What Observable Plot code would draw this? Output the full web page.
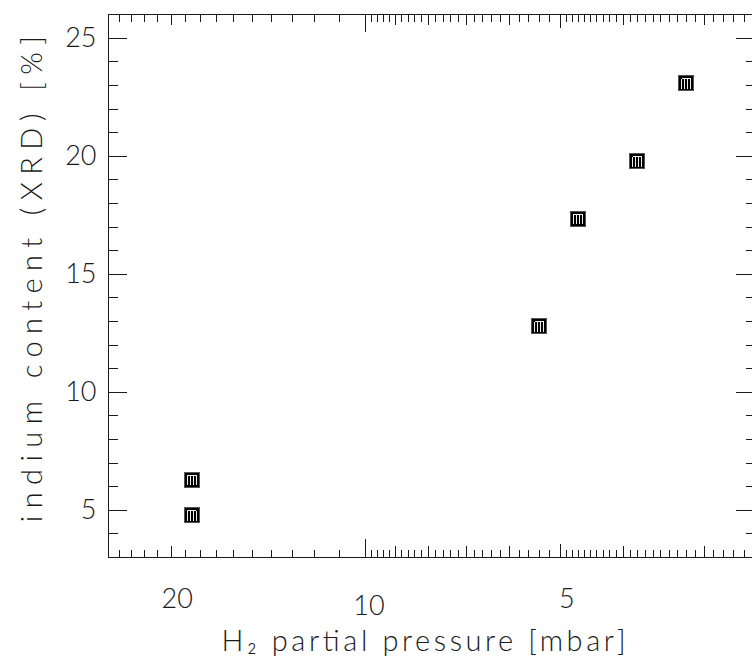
<!DOCTYPE html>
<html><head><meta charset="utf-8">
<script src="https://cdn.jsdelivr.net/npm/d3@7"></script>
<script src="https://cdn.jsdelivr.net/npm/@observablehq/plot@0.6"></script>
<style>
html,body{margin:0;padding:0;background:#fff;overflow:hidden;}
</style></head><body><div id="chart"></div>
<script>
// ---- data ----
const pressure = [18.6, 18.6, 5.40, 4.71, 3.81, 3.20];   // H2 partial pressure [mbar]
const indium   = [6.3, 4.8, 12.8, 17.35, 19.8, 23.1];    // indium content [%]
const xTickLabels = [20, 10, 5];
const yTickLabels = [5, 10, 15, 20, 25];
const xTitle = "H₂ partial pressure [mbar]";
const yTitle = "indium content (XRD) [%]";

const points = pressure.map((p, i) => ({p, v: indium[i]}));

// ---- layout ----
const W = 752, H = 662, mt = 14.3, mb = 105, ml = 108, mr = -3;
const plotH = H - mt - mb, plotW = W - ml - mr;

// tick positions (log axis, PGPLOT-like subdivisions)
const xMinor = [24, 23, 22, 21, 19, 18, 17, 16, 15, 14, 13, 12, 11]
  .concat(d3.range(26, 50).filter(k => k % 5).map(k => k / 5))
  .concat(d3.range(26, 50).filter(k => k % 10).map(k => k / 10));
const xMedium = [20, 9, 8, 7, 6, 4, 3];
const yMinor = d3.range(4, 26).filter(k => k % 5);

const ink = "#1a1a1a";
const font = "Lato, 'DejaVu Sans', sans-serif";

function xTicks(values, len) {
  return [
    Plot.tickX(values, {x: d => d, insetTop: plotH - len, stroke: ink}),
    Plot.tickX(values, {x: d => d, insetBottom: plotH - len, stroke: ink})
  ];
}
function yTicks(values, len) {
  return [
    Plot.tickY(values, {y: d => d, insetRight: plotW - len, stroke: ink}),
    Plot.tickY(values, {y: d => d, insetLeft: plotW - len, stroke: ink})
  ];
}

const squareSym = {draw(ctx) { const s = 7.5; ctx.moveTo(-s, -s); ctx.lineTo(s, -s); ctx.lineTo(s, s); ctx.lineTo(-s, s); ctx.closePath(); }};
const stripeSym = {draw(ctx) {
  ctx.moveTo(-4.5, -4.5); ctx.lineTo(4.5, -4.5);
  for (const x of [-4.5, -1.5, 1.5, 4.5]) { ctx.moveTo(x, -4.5); ctx.lineTo(x, 5.5); }
}};

const chart = Plot.plot({
  width: W, height: H,
  marginTop: mt, marginBottom: mb, marginLeft: ml, marginRight: mr,
  style: {fontFamily: font, background: "#fff", shapeRendering: "crispEdges"},
  x: {type: "log", domain: [25, 2.5], axis: null},
  y: {type: "linear", domain: [3, 26], axis: null},
  marks: [
    ...xTicks(xMinor, 7.5),
    ...xTicks(xMedium, 10.8),
    ...xTicks([5], 13.5),
    ...xTicks([10], 18),
    ...yTicks(yMinor, 9.5),
    ...yTicks(yTickLabels, 19),
    Plot.frame({stroke: ink, strokeWidth: 1}),
    Plot.text([20, 5], {x: d => d, text: d => String(d), frameAnchor: "bottom", dx: 6, dy: 50,
      lineAnchor: "bottom", fontSize: 27, fontWeight: 300, fill: ink}),
    Plot.text([10], {x: d => d, text: d => String(d), frameAnchor: "bottom", dx: 3, dy: 57,
      lineAnchor: "bottom", fontSize: 27, fontWeight: 300, fill: ink}),
    Plot.text(yTickLabels, {y: d => d, text: d => String(d), frameAnchor: "left", dx: -12,
      textAnchor: "end", lineAnchor: "middle", fontSize: 27, fontWeight: 300, fill: ink}),
    Plot.text([xTitle], {frameAnchor: "bottom", dx: -210.5, dy: 93, textAnchor: "start", lineAnchor: "bottom",
      fontSize: 29, fontWeight: 300, fill: ink, className: "xtitle"}),
    Plot.text([yTitle], {frameAnchor: "left", dx: -67, dy: 236, rotate: -90, textAnchor: "start", lineAnchor: "bottom",
      fontSize: 29, fontWeight: 300, fill: ink, className: "ytitle"}),
    Plot.dot(points, {x: "p", y: "v", symbol: squareSym, fill: "#000", stroke: "#555", strokeWidth: 1}),
    Plot.dot(points, {x: "p", y: "v", symbol: stripeSym, fill: "none", stroke: "#eee", strokeWidth: 1})
  ]
});
document.getElementById("chart").appendChild(chart);
chart.querySelectorAll(".xtitle text").forEach(t => { t.setAttribute("textLength", 404); t.setAttribute("lengthAdjust", "spacing"); });
chart.querySelectorAll(".ytitle text").forEach(t => { t.setAttribute("textLength", 486); t.setAttribute("lengthAdjust", "spacing"); });
chart.querySelectorAll("text").forEach(t => t.style.shapeRendering = "auto");
</script></body></html>
